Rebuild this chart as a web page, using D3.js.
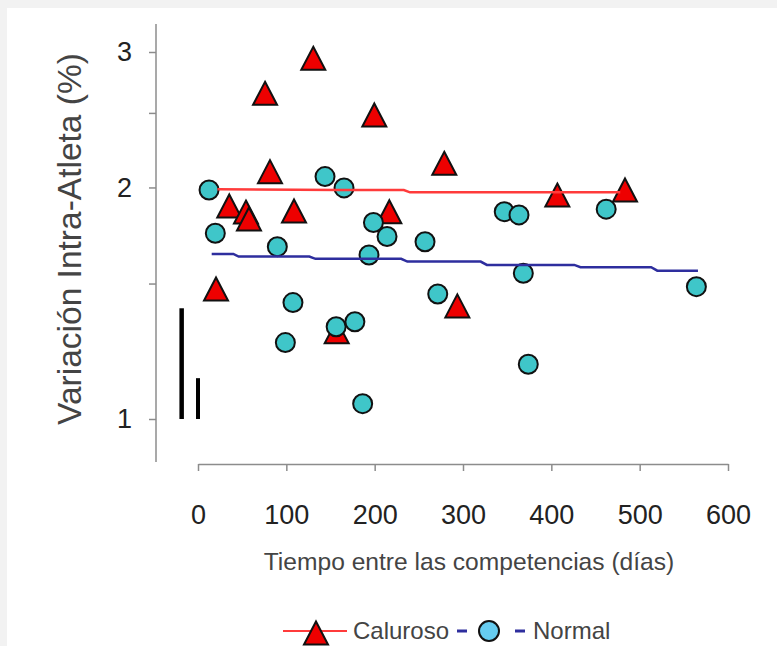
<!DOCTYPE html>
<html>
<head>
<meta charset="utf-8">
<script src="https://cdn.jsdelivr.net/npm/d3@7"></script>
<style>
  html, body { margin: 0; padding: 0; background: #f2f2f2; }
  svg { display: block; }
</style>
</head>
<body>
<svg id="chart" width="777" height="646"></svg>
<script>
// ---------- DATA ----------
// Caluroso (triangles): days between competitions, intra-athlete variation (%)
const calurosoDays = [130.5, 75.9, 199.6, 81.5, 35.4, 54.3, 57.7, 108.7, 216.6, 20.4, 157.0, 278.8, 293.6, 406.8, 483.4];
const calurosoVar  = [2.944, 2.651, 2.485, 2.097, 1.892, 1.858, 1.820, 1.864, 1.860, 1.476, 1.298, 2.150, 1.403, 1.955, 1.985];

// Normal (circles)
const normalDays = [12.5, 19.6, 89.8, 107.5, 98.9, 143.8, 165.3, 156.4, 177.6, 186.4, 193.6, 198.6, 214.0, 257.0, 271.4, 346.7, 363.4, 368.3, 373.9, 462.1, 564.2];
const normalVar  = [1.985, 1.744, 1.675, 1.417, 1.257, 2.066, 1.997, 1.318, 1.338, 1.047, 1.634, 1.801, 1.727, 1.700, 1.454, 1.860, 1.842, 1.547, 1.178, 1.874, 1.486];

// Fitted (step-like) lines
const calurosoFitDays = [22, 160, 233, 240, 478];
const calurosoFitVar  = [1.989, 1.985, 1.985, 1.971, 1.971];

const normalFitDays = [15.5, 40, 46, 126, 133, 230, 237, 320, 327, 426, 433, 513, 520, 566];
const normalFitVar  = [1.639, 1.639, 1.626, 1.626, 1.615, 1.615, 1.602, 1.602, 1.586, 1.586, 1.575, 1.575, 1.559, 1.559];

// Black vertical bars near the origin (day, top value; bottom at 1)
const barDays = [-18.5, 0];
const barTop  = [1.393, 1.130];
const barBase = 1;

// Axis ticks
const xTicks = [0, 100, 200, 300, 400, 500, 600];
const yTicks = [1, 1.5, 2, 2.5, 3];
const yTickLabels = ["1", "", "2", "", "3"];

const seriesNames = ["Caluroso", "Normal"];
const xTitle = "Tiempo entre las competencias (días)";
const yTitle = "Variación Intra-Atleta (%)";

// ---------- LAYOUT ----------
const svg = d3.select("#chart");
const FONT = "'Liberation Sans', Arial, sans-serif";

svg.append("rect").attr("x", 7).attr("y", 8).attr("width", 770).attr("height", 638).attr("fill", "#ffffff");

const x = d3.scaleLinear().domain([0, 600]).range([198, 728]);
const y = d3.scaleLog().domain([1, 3]).range([419, 52]);

const yAxisX = 156, yAxisTop = 24, yAxisBottom = 462;
const xAxisY = 464;

// Y axis
svg.append("line")
  .attr("x1", yAxisX).attr("x2", yAxisX)
  .attr("y1", yAxisTop).attr("y2", yAxisBottom)
  .attr("stroke", "#8c8c8c").attr("stroke-width", 1.5);

const yAxis = d3.axisLeft(y)
  .tickValues(yTicks)
  .tickSize(7)
  .tickPadding(17)
  .tickFormat((d, i) => yTickLabels[i]);

const gy = svg.append("g").attr("transform", `translate(${yAxisX},0)`).call(yAxis);
gy.select(".domain").remove();
gy.selectAll(".tick line").attr("stroke", "#8c8c8c").attr("stroke-width", 1.5);
gy.selectAll(".tick text")
  .attr("font-family", FONT).attr("font-size", 27).attr("fill", "#222");

// X axis
const xAxis = d3.axisBottom(x)
  .tickValues(xTicks)
  .tickSize(7)
  .tickSizeOuter(0)
  .tickPadding(34)
  .tickFormat(d3.format("d"));

const gx = svg.append("g").attr("transform", `translate(0,${xAxisY})`).call(xAxis);
gx.select(".domain").attr("stroke", "#8c8c8c").attr("stroke-width", 1.5);
gx.selectAll(".tick line").attr("stroke", "#8c8c8c").attr("stroke-width", 1.5);
gx.selectAll(".tick text")
  .attr("font-family", FONT).attr("font-size", 27).attr("fill", "#222");

// Titles
svg.append("text")
  .attr("transform", "translate(81,239) rotate(-90)")
  .attr("text-anchor", "middle")
  .attr("font-family", FONT).attr("font-size", 33.5).attr("fill", "#444")
  .text(yTitle);

svg.append("text")
  .attr("x", 469).attr("y", 570)
  .attr("text-anchor", "middle")
  .attr("font-family", FONT).attr("font-size", 24.6).attr("fill", "#444")
  .text(xTitle);

// Black bars
svg.append("g").selectAll("line")
  .data(barDays.map((d, i) => ({ d, t: barTop[i] })))
  .join("line")
  .attr("x1", p => x(p.d)).attr("x2", p => x(p.d))
  .attr("y1", y(barBase)).attr("y2", p => y(p.t))
  .attr("stroke", "#000").attr("stroke-width", (p, i) => i === 0 ? 4.5 : 4);

// Marker shapes
const triPath = (w, h) => `M0,${-h / 2}L${w / 2},${h / 2}L${-w / 2},${h / 2}Z`;
const TRI_W = 24, TRI_H = 23, CIRC_R = 9.5;

const calurosoPts = calurosoDays.map((d, i) => ({ d, v: calurosoVar[i] }));
const normalPts = normalDays.map((d, i) => ({ d, v: normalVar[i] }));

svg.append("g").selectAll("path")
  .data(calurosoPts)
  .join("path")
  .attr("d", triPath(TRI_W, TRI_H))
  .attr("transform", p => `translate(${x(p.d)},${y(p.v)})`)
  .attr("fill", "#ee0000").attr("stroke", "#111").attr("stroke-width", 2)
  .attr("stroke-linejoin", "miter");

svg.append("g").selectAll("circle")
  .data(normalPts)
  .join("circle")
  .attr("cx", p => x(p.d)).attr("cy", p => y(p.v)).attr("r", CIRC_R)
  .attr("fill", "#3fc6c9").attr("stroke", "#111").attr("stroke-width", 2);

// Fit lines
const line = d3.line().x(p => x(p.d)).y(p => y(p.v));
svg.append("path")
  .datum(calurosoFitDays.map((d, i) => ({ d, v: calurosoFitVar[i] })))
  .attr("d", line).attr("fill", "none")
  .attr("stroke", "#ff3b3b").attr("stroke-width", 2.5);

svg.append("path")
  .datum(normalFitDays.map((d, i) => ({ d, v: normalFitVar[i] })))
  .attr("d", line).attr("fill", "none")
  .attr("stroke", "#2e2e9e").attr("stroke-width", 2.5);

// Legend
const lg = svg.append("g");
lg.append("line").attr("x1", 283).attr("x2", 347).attr("y1", 631).attr("y2", 631)
  .attr("stroke", "#ff3b3b").attr("stroke-width", 2);
lg.append("path").attr("d", triPath(TRI_W, TRI_H))
  .attr("transform", "translate(316,633)")
  .attr("fill", "#ee0000").attr("stroke", "#111").attr("stroke-width", 2);
lg.append("text").attr("x", 353).attr("y", 639)
  .attr("font-family", FONT).attr("font-size", 24).attr("fill", "#444")
  .text(seriesNames[0]);

lg.append("line").attr("x1", 457).attr("x2", 525).attr("y1", 631).attr("y2", 631)
  .attr("stroke", "#2e2e9e").attr("stroke-width", 3)
  .attr("stroke-dasharray", "10,48");
lg.append("circle").attr("cx", 489).attr("cy", 631).attr("r", 10)
  .attr("fill", "#66ccf0").attr("stroke", "#111").attr("stroke-width", 2);
lg.append("text").attr("x", 533).attr("y", 639)
  .attr("font-family", FONT).attr("font-size", 24).attr("fill", "#444")
  .text(seriesNames[1]);
</script>
</body>
</html>
